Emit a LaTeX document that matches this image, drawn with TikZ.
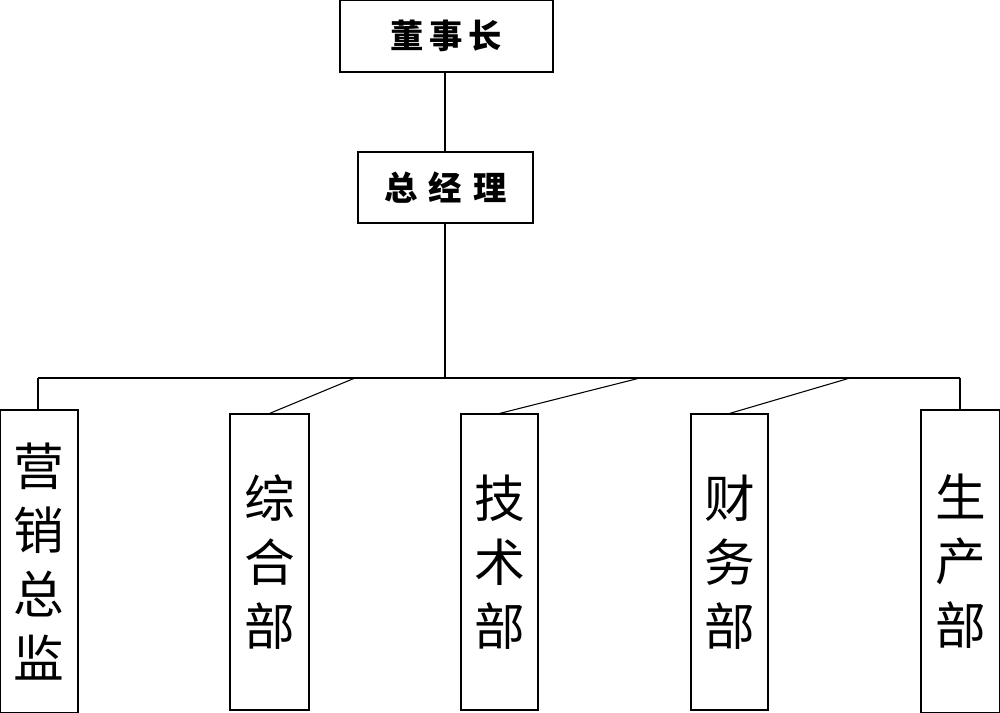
\documentclass[tikz,border=0pt]{standalone}
\usepackage{fontspec}
\newfontfamily\cjk{Noto Sans CJK SC}
\begin{document}
\begin{tikzpicture}[x=0.75pt,y=-0.75pt,
  box/.style={draw,line width=0.8pt,inner sep=0pt},
  ln/.style={line width=0.8pt}]
\useasboundingbox (0,0) rectangle (1000,713);
\node[box,minimum width=213*0.75pt,minimum height=72*0.75pt,font=\cjk\bfseries\fontsize{25}{25}\selectfont] (dsz) at (446.5,36) {董\,事\,长};
\node[box,minimum width=175*0.75pt,minimum height=71*0.75pt,font=\cjk\bfseries\fontsize{25}{25}\selectfont] (zjl) at (445.5,187.5) {总\,\,经\,\,理};
\tikzset{vbox/.style={box,minimum width=78*0.75pt,font=\cjk\fontsize{38}{48}\selectfont,align=center}}
\node[vbox,minimum height=303*0.75pt] (yx) at (39,561.5) {营\\销\\总\\监};
\node[vbox,minimum height=296*0.75pt,minimum width=79*0.75pt] (zh) at (269.5,562) {综\\合\\部};
\node[vbox,minimum height=296*0.75pt,minimum width=77*0.75pt] (js) at (499.5,562) {技\\术\\部};
\node[vbox,minimum height=296*0.75pt,minimum width=77*0.75pt] (cw) at (729.5,562) {财\\务\\部};
\node[vbox,minimum height=303*0.75pt,minimum width=79*0.75pt] (sc) at (960.5,561.5) {生\\产\\部};
\coordinate (bus) at (445,378);
\coordinate (bl) at (38,378);
\coordinate (br) at (960,378);
\coordinate (b1) at (355,378);
\coordinate (b2) at (640,378);
\coordinate (b3) at (850,378);
\draw[ln] (dsz.south -| bus) -- (zjl.north -| bus);
\draw[ln] (zjl.south -| bus) -- (bus);
\draw[ln] (bl) -- (br);
\draw[ln] (bl) -- (yx.north -| bl);
\draw[ln] (br) -- (sc.north -| br);
\draw[ln] (b1) -- (zh.north);
\draw[ln] (b2) -- (js.north);
\draw[ln] (b3) -- (cw.north);
\end{tikzpicture}
\end{document}
